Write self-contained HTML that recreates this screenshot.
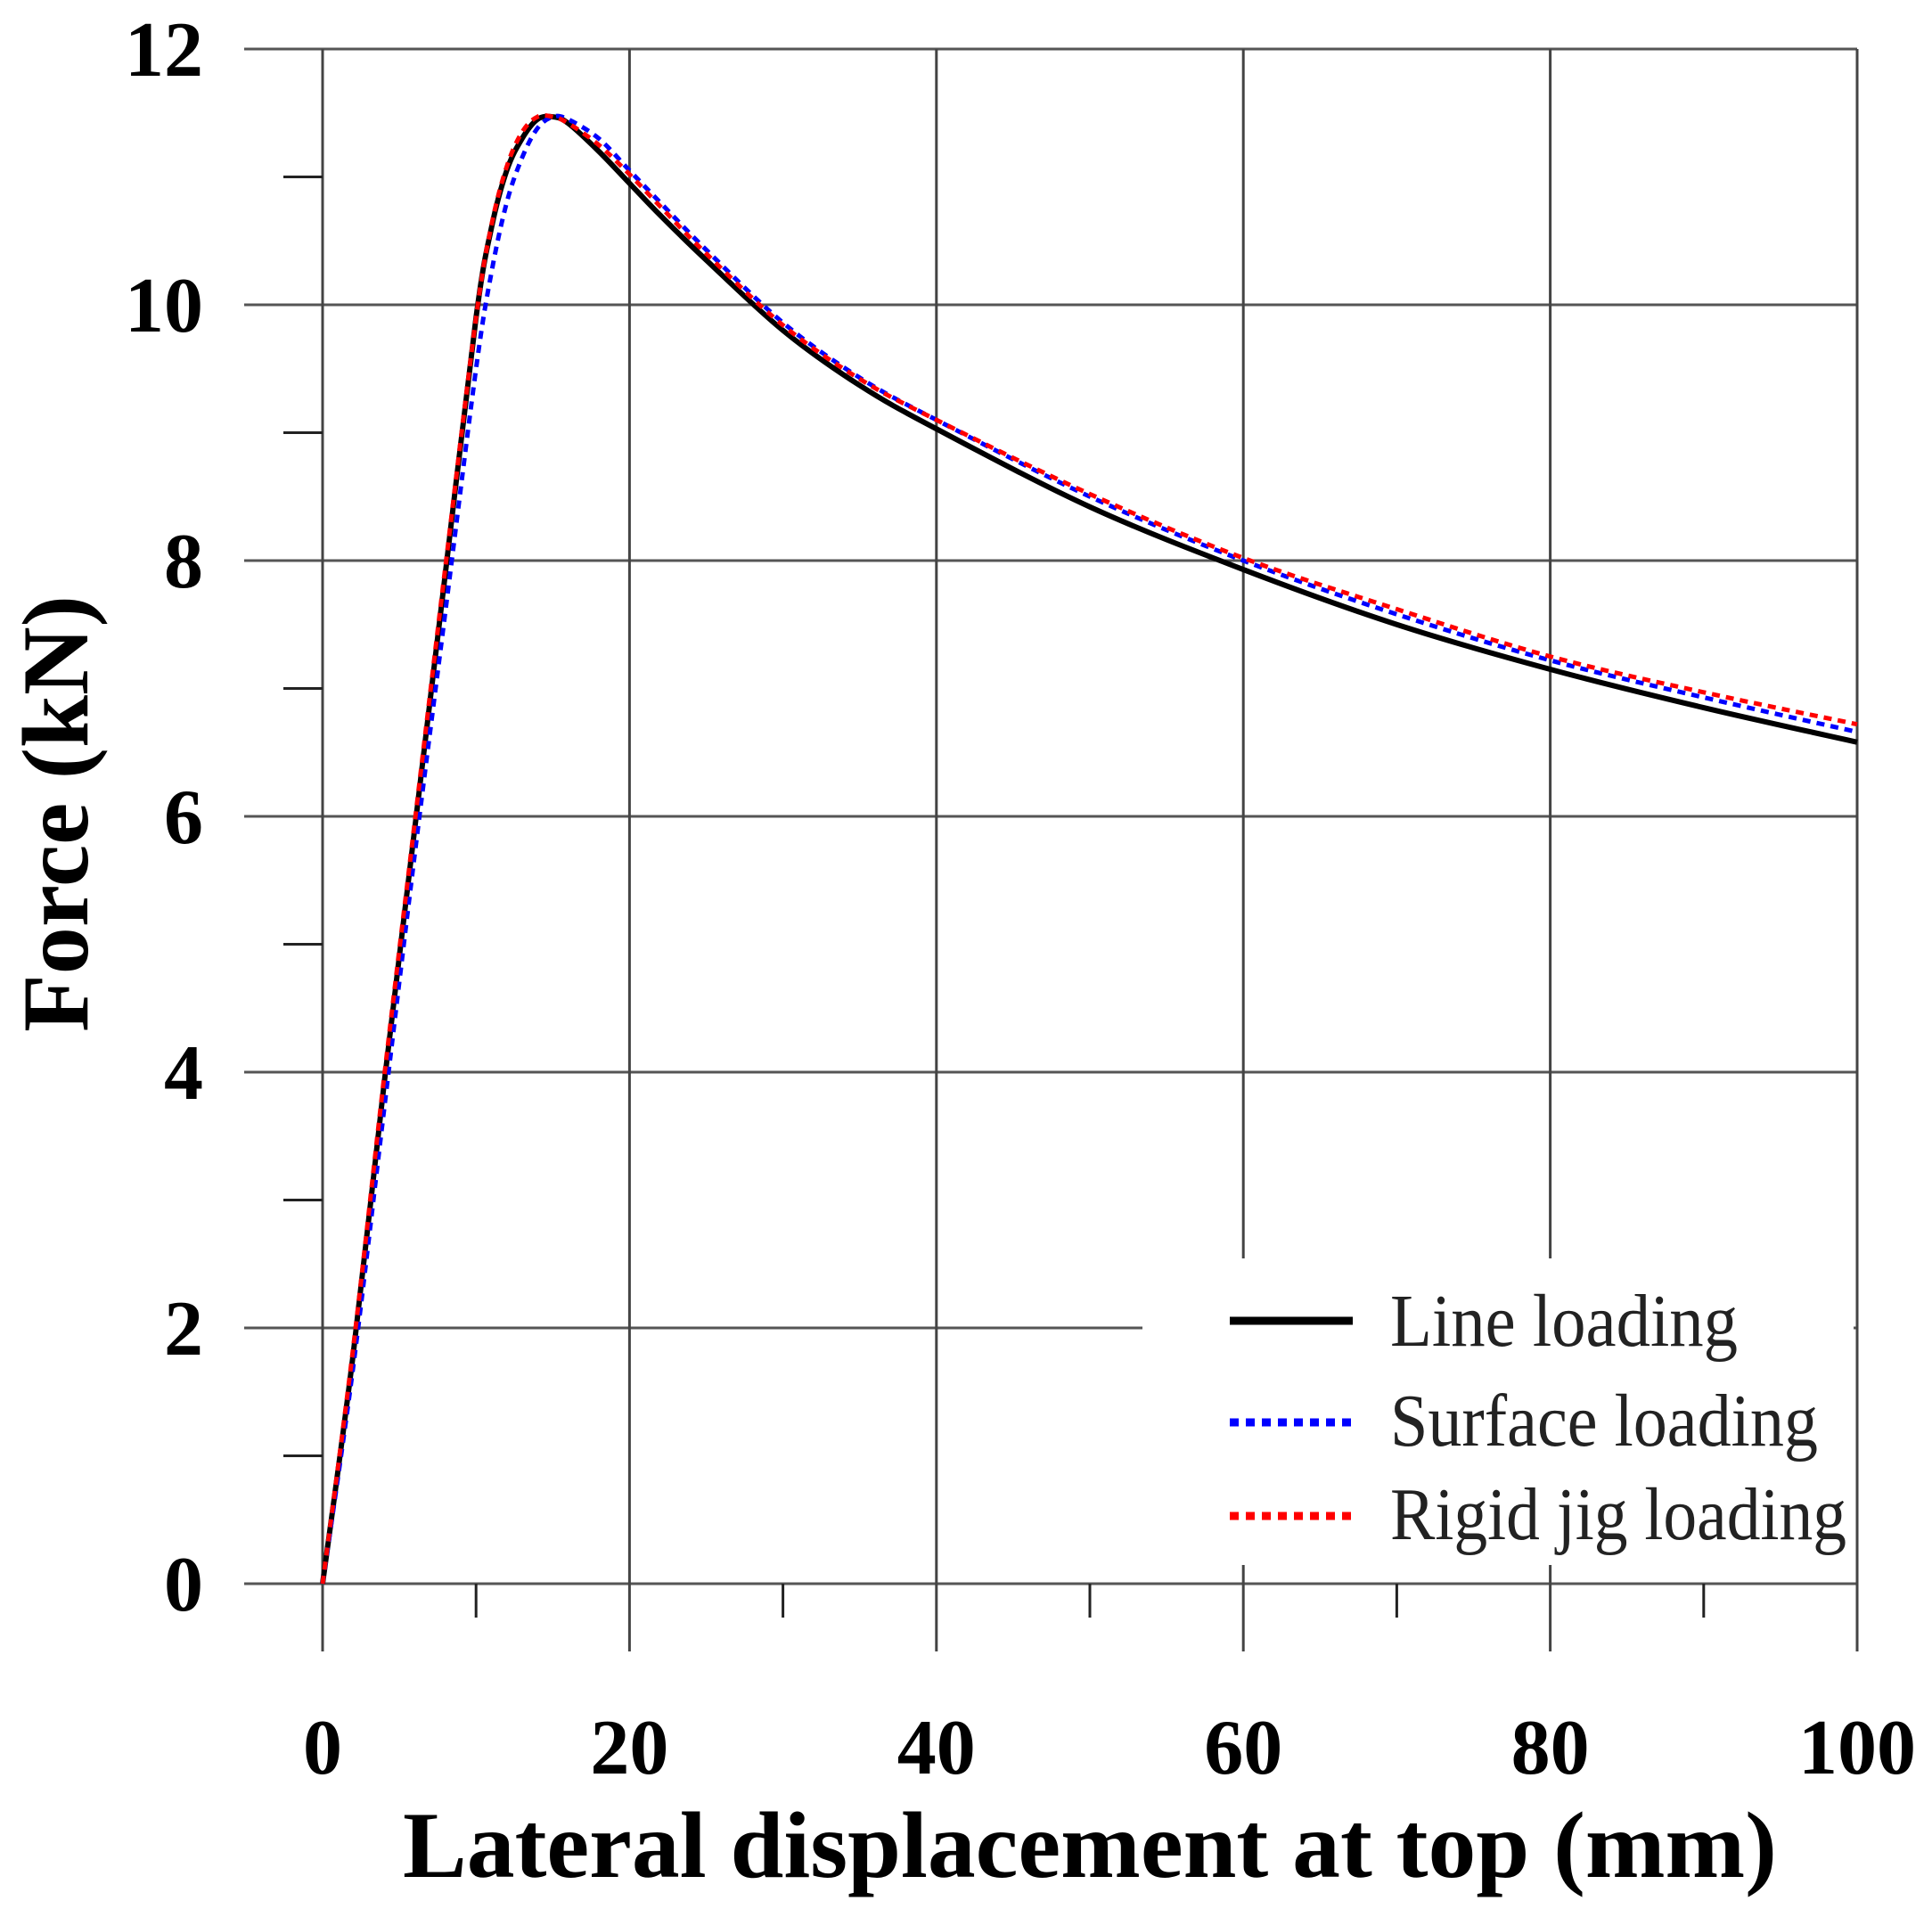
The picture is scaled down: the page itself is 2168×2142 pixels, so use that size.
<!DOCTYPE html>
<html><head><meta charset="utf-8"><style>
html,body{margin:0;padding:0;background:#fff;}
svg{display:block;}
text{font-family:"Liberation Serif",serif;}
</style></head><body>
<svg id="chart" width="2168" height="2142" viewBox="0 0 2168 2142" xmlns="http://www.w3.org/2000/svg">
<g id="grid"></g>
<g id="axes"></g>
<g id="series"></g>
<g id="legend">
  <rect x="1282" y="1412" width="798" height="344" fill="#fff"/>
  <line x1="1380" y1="1482" x2="1518" y2="1482" stroke="#000" stroke-width="9"/>
  <text x="1560" y="1510" font-size="84" fill="#222" textLength="390" lengthAdjust="spacingAndGlyphs">Line loading</text>
  <line x1="1380" y1="1596" x2="1518" y2="1596" stroke="#00f" stroke-width="9" stroke-dasharray="10,8"/>
  <text x="1560" y="1622" font-size="84" fill="#222" textLength="480" lengthAdjust="spacingAndGlyphs">Surface loading</text>
  <line x1="1380" y1="1701" x2="1518" y2="1701" stroke="#f00" stroke-width="9" stroke-dasharray="10,8"/>
  <text x="1560" y="1727" font-size="84" fill="#222" textLength="512" lengthAdjust="spacingAndGlyphs">Rigid jig loading</text>
</g>
<text x="1223" y="2106" font-size="106" font-weight="bold" text-anchor="middle" textLength="1542" lengthAdjust="spacingAndGlyphs">Lateral displacement at top (mm)</text>
<text transform="translate(98,913) rotate(-90)" font-size="106" font-weight="bold" text-anchor="middle" textLength="490" lengthAdjust="spacingAndGlyphs">Force (kN)</text>
</svg>
<script>
const xTicks = [0,20,40,60,80,100];
const yTicks = [0,2,4,6,8,10,12];
const xDisp = [0,2,4,6,8,10,11,12,13,14,15,16,18,20,22,25,30,35,40,50,60,70,80,90,100];
const lineLoading = [0,1.8,3.9,5.9,7.9,9.9,10.6,11.05,11.3,11.45,11.47,11.42,11.2,10.95,10.7,10.35,9.8,9.37,9.03,8.42,7.93,7.5,7.15,6.85,6.58];
const surfaceLoading = [0,1.7,3.7,5.7,7.6,9.5,10.25,10.8,11.15,11.38,11.47,11.45,11.3,11.05,10.8,10.43,9.86,9.43,9.1,8.5,8.0,7.58,7.22,6.93,6.66];
const rigidLoading = [0,1.85,3.95,5.95,7.95,9.9,10.62,11.08,11.35,11.47,11.47,11.42,11.25,11.02,10.77,10.4,9.84,9.42,9.1,8.52,8.02,7.62,7.25,6.97,6.72];

const NS='http://www.w3.org/2000/svg';
const X0=362,X1=2084,Y0=1777,Y1=55;
const sx=v=>X0+(v-0)/(100-0)*(X1-X0);
const sy=v=>Y0-(v-0)/(12-0)*(Y0-Y1);
function mk(tag,attrs,parent){const e=document.createElementNS(NS,tag);for(const k in attrs)e.setAttribute(k,attrs[k]);parent.appendChild(e);return e;}
const grid=document.getElementById('grid'),axes=document.getElementById('axes'),series=document.getElementById('series');

yTicks.forEach(v=>{
  const l=mk('line',{x1:274,x2:X1,y1:sy(v),y2:sy(v),stroke:'#555','stroke-width':3},grid);
  
  
  const t=mk('text',{x:228,y:sy(v)+30,'font-size':88,'font-weight':'bold','text-anchor':'end'},axes);
  t.textContent=v;
  
  
});
for(let v=1;v<12;v+=2){
  const l=mk('line',{x1:318,x2:X0,y1:sy(v),y2:sy(v),stroke:'#222','stroke-width':3},axes);
  
  
}
xTicks.forEach(v=>{
  const l=mk('line',{x1:sx(v),x2:sx(v),y1:Y1,y2:1853,stroke:'#444','stroke-width':3},grid);
  
  
  const t=mk('text',{x:sx(v),y:1990,'font-size':88,'font-weight':'bold','text-anchor':'middle'},axes);
  t.textContent=v;
  
  
});
for(let v=10;v<100;v+=20){
  const l=mk('line',{x1:sx(v),x2:sx(v),y1:Y0,y2:1815,stroke:'#222','stroke-width':3},axes);
  
  
}

function pathFor(xs,ys){
  const p=xs.map((x,i)=>[sx(x),sy(ys[i])]);
  let d='M'+p[0][0]+','+p[0][1];
  for(let i=0;i<p.length-1;i++){
    const a=p[i-1]||p[i],b=p[i],c=p[i+1],e=p[i+2]||c;
    const c1=[b[0]+(c[0]-a[0])/6,b[1]+(c[1]-a[1])/6];
    const c2=[c[0]-(e[0]-b[0])/6,c[1]-(e[1]-b[1])/6];
    d+=' C'+c1+' '+c2+' '+c;
  }
  return d;
}
const s1=mk('path',{d:pathFor(xDisp,lineLoading),fill:'none',stroke:'#000','stroke-width':6},series);


const s2=mk('path',{d:pathFor(xDisp,surfaceLoading),fill:'none',stroke:'#00f','stroke-width':5,'stroke-dasharray':'9,7'},series);


const s3=mk('path',{d:pathFor(xDisp,rigidLoading),fill:'none',stroke:'#f00','stroke-width':5,'stroke-dasharray':'9,7'},series);


</script>
</body></html>
